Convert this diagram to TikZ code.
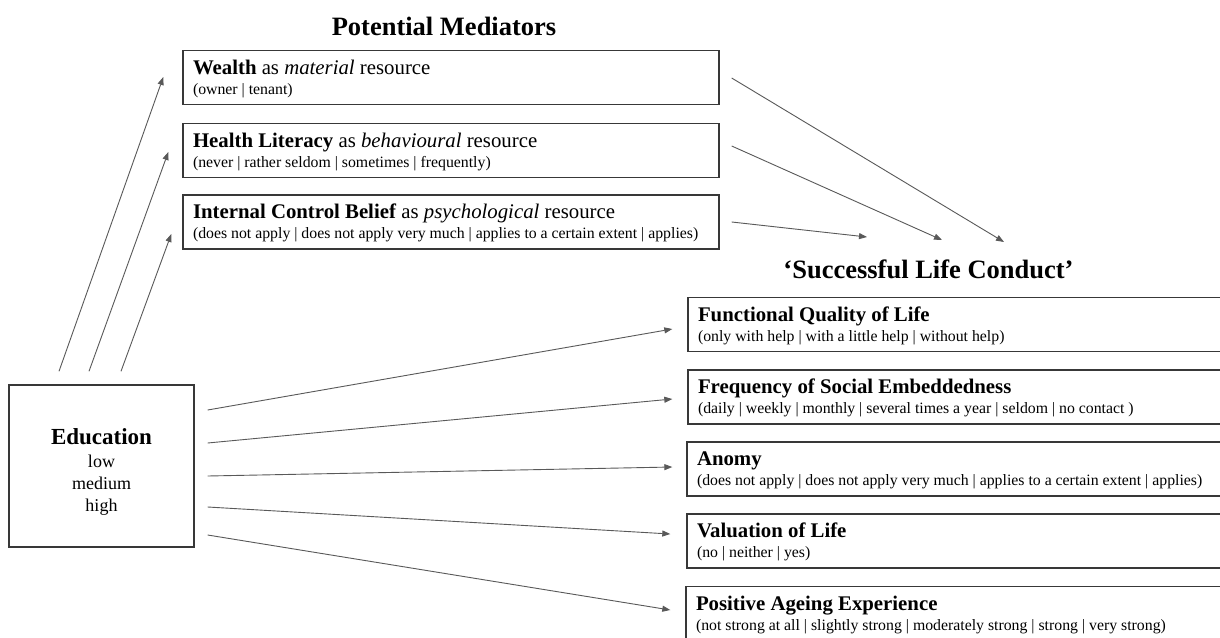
\documentclass[tikz,border=0pt]{standalone}
\usepackage{fontspec}
\setmainfont{Liberation Serif}
\usetikzlibrary{arrows.meta}

% text sizes inside the boxes
\newcommand\boxhead{\fontsize{20.8}{24}\selectfont}
\newcommand\boxnotefont{\fontsize{15.8}{20}\selectfont}
% fixed line spacing: room above and below the heading, height above the note
\newcommand\headdepth{\rule[-5pt]{0pt}{22pt}}
\newcommand\noteheight{\rule{0pt}{14.5pt}}

\tikzset{
  frame/.style={draw=black!78, line width=1.4pt, rectangle, inner xsep=10pt,
                inner ysep=0pt, align=flush left, font=\boxnotefont},
  medbox/.style={frame, minimum width=536pt, minimum height=54pt, text width=516pt},
  outbox/.style={frame, minimum width=560pt, minimum height=54pt, text width=540pt},
  edubox/.style={draw=black!78, line width=1.4pt, rectangle, inner sep=0pt,
                 minimum width=185pt, minimum height=162pt, align=center,
                 font=\fontsize{18}{22}\selectfont},
  heading/.style={font=\fontsize{26.5}{30}\selectfont\bfseries, inner sep=0pt, anchor=base},
  link/.style={draw=black!65, line width=0.9pt, -{Triangle[length=8pt,width=6pt]}},
}

\begin{document}
\begin{tikzpicture}[x=1pt,y=-1pt]
  \clip (0,0) rectangle (1220,637);
  \fill[white] (0,0) rectangle (1220,637);

  % headings
  \node[heading] (pm)  at (444,35)    {Potential Mediators};
  \node[heading] (slc) at (928.5,278) {‘Successful Life Conduct’};

  % exposure
  \node[edubox] (edu) at (101.5,466)
    {{\fontsize{23}{26}\selectfont\bfseries\rule{0pt}{28pt}Education}\\[1pt]
     low\\ medium\\ high};

  % mediators
  \node[medbox] (wealth) at (451,77.5)
    {{\boxhead\textbf{Wealth} as \textit{material} resource\headdepth}\\
     \noteheight(owner | tenant)};
  \node[medbox] (health) at (451,150.5)
    {{\boxhead\textbf{Health Literacy} as \textit{behavioural} resource\headdepth}\\
     \noteheight(never | rather seldom | sometimes | frequently)};
  \node[medbox] (icb) at (451,222)
    {{\boxhead\textbf{Internal Control Belief} as \textit{psychological} resource\headdepth}\\
     \noteheight(does not apply | does not apply very much | applies to a certain extent | applies)};

  % outcomes
  \node[outbox] (fql) at (968,324.5)
    {{\boxhead\textbf{Functional Quality of Life}\headdepth}\\
     \noteheight(only with help | with a little help | without help)};
  \node[outbox] (fse) at (968,397)
    {{\boxhead\textbf{Frequency of Social Embeddedness}\headdepth}\\
     \noteheight(daily | weekly | monthly | several times a year | seldom | no contact )};
  \node[outbox] (anomy) at (967,469)
    {{\boxhead\textbf{Anomy}\headdepth}\\
     \noteheight(does not apply | does not apply very much | applies to a certain extent | applies)};
  \node[outbox] (val) at (967,541)
    {{\boxhead\textbf{Valuation of Life}\headdepth}\\
     \noteheight(no | neither | yes)};
  \node[outbox] (pae) at (966,613.5)
    {{\boxhead\textbf{Positive Ageing Experience}\headdepth}\\
     \noteheight(not strong at all | slightly strong | moderately strong | strong | very strong)};

  % education -> mediators
  \draw[link] ([shift={(-42.5,-13)}]edu.north) -- ([shift={(-19,-0.5)}]wealth.west);
  \draw[link] ([shift={(-12.5,-13)}]edu.north) -- ([shift={(-14,1.5)}]health.west);
  \draw[link] ([shift={(19.5,-13)}]edu.north)  -- ([shift={(-11,12)}]icb.west);

  % mediators -> successful life conduct
  \draw[link] ([shift={(12,0.5)}]wealth.east) -- ([shift={(75.5,-36)}]slc.base);
  \draw[link] ([shift={(12,-4.5)}]health.east) -- ([shift={(13.5,-38)}]slc.base);
  \draw[link] ([shift={(12,0)}]icb.east)       -- ([shift={(-61.5,-41)}]slc.base);

  % education -> outcomes
  \draw[link] ([shift={(13,-56)}]edu.east) -- ([shift={(-15,4.5)}]fql.west);
  \draw[link] ([shift={(13,-23)}]edu.east) -- ([shift={(-15,2)}]fse.west);
  \draw[link] ([shift={(13,10)}]edu.east)  -- ([shift={(-14,-2)}]anomy.west);
  \draw[link] ([shift={(13,41)}]edu.east)  -- ([shift={(-16,-7)}]val.west);
  \draw[link] ([shift={(13,69)}]edu.east)  -- ([shift={(-15,-3.5)}]pae.west);
\end{tikzpicture}
\end{document}
